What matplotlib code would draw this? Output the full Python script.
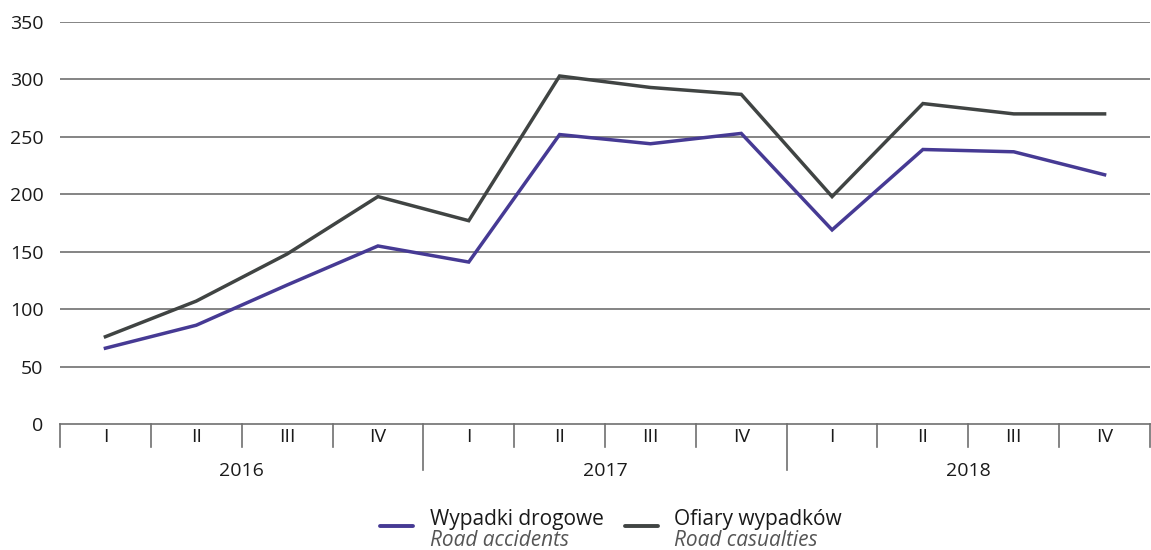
import matplotlib
matplotlib.use("Agg")
import matplotlib.pyplot as plt
from matplotlib.lines import Line2D
import numpy as np

years = ["2016", "2017", "2018"]
quarters = ["I", "II", "III", "IV"]
accidents = [66, 86, 121, 155, 141, 252, 244, 253, 169, 239, 237, 217]
casualties = [76, 107, 148, 198, 177, 303, 293, 287, 198, 279, 270, 270]
series_names = [("Wypadki drogowe", "Road accidents"), ("Ofiary wypadków", "Road casualties")]
yticks = [0, 50, 100, 150, 200, 250, 300, 350]

PURPLE = "#463a94"
DARK = "#404443"
GRID = "#707070"
plt.rcParams['font.family'] = ['Open Sans', 'DejaVu Sans']

W, H = 1151, 550
fig = plt.figure(figsize=(W / 100, H / 100), dpi=100)
left, right, bottom, top = 60 / W, 1150 / W, 1 - 424 / H, 1 - 22 / H
ax = fig.add_axes([left, bottom, right - left, top - bottom])

n = len(accidents)
x = np.arange(n)
ax.plot(x, casualties, color=DARK, lw=2.5, solid_joinstyle='miter', zorder=3)
ax.plot(x, accidents, color=PURPLE, lw=2.5, solid_joinstyle='miter', zorder=4)

ax.set_xlim(-0.5, n - 0.5)
ax.set_ylim(0, 350)
ax.set_yticks(yticks)
ax.set_yticklabels([str(v) for v in yticks], fontsize=14, color="#1a1a1a")
ax.tick_params(axis='y', length=0, pad=12)
ax.set_xticks([])
for v in yticks[1:]:
    ax.axhline(v, color=GRID, lw=1.2, zorder=1)
for s in ["top", "right", "left"]:
    ax.spines[s].set_visible(False)
ax.spines["bottom"].set_color(GRID)
ax.spines["bottom"].set_linewidth(1.2)

# category axis: quarter separators and year separators
trans = ax.get_xaxis_transform()
qlen = 23 / 402
ylen = 46 / 402
for i in range(n + 1):
    b = i - 0.5
    is_year = (i % 4 == 0) and 0 < i < n
    depth = ylen if is_year else qlen
    ax.plot([b, b], [0, -depth], transform=trans, color=GRID, lw=1.2, clip_on=False)
for i in range(n):
    ax.text(i, -13 / 402, quarters[i % 4], transform=trans, ha='center', va='center',
            fontsize=14, color="#1a1a1a")
for j, yr in enumerate(years):
    ax.text(j * 4 + 1.5, -47 / 402, yr, transform=trans, ha='center', va='center',
            fontsize=14, color="#1a1a1a")

# legend
entries = [(PURPLE, 380, 430), (DARK, 625, 674)]
for (col, hx, tx), (pl, en) in zip(entries, series_names):
    fig.add_artist(Line2D([hx / W, (hx + 33) / W], [1 - 526 / H, 1 - 526 / H],
                          color=col, lw=2.8, solid_capstyle='round'))
    fig.text(tx / W, 1 - 519 / H, pl, ha='left', va='center', fontsize=15, color="#1a1a1a")
    fig.text(tx / W, 1 - 541 / H, en, ha='left', va='center', fontsize=15,
             style='italic', color="#555555")

fig.savefig("out.png", dpi=100)
